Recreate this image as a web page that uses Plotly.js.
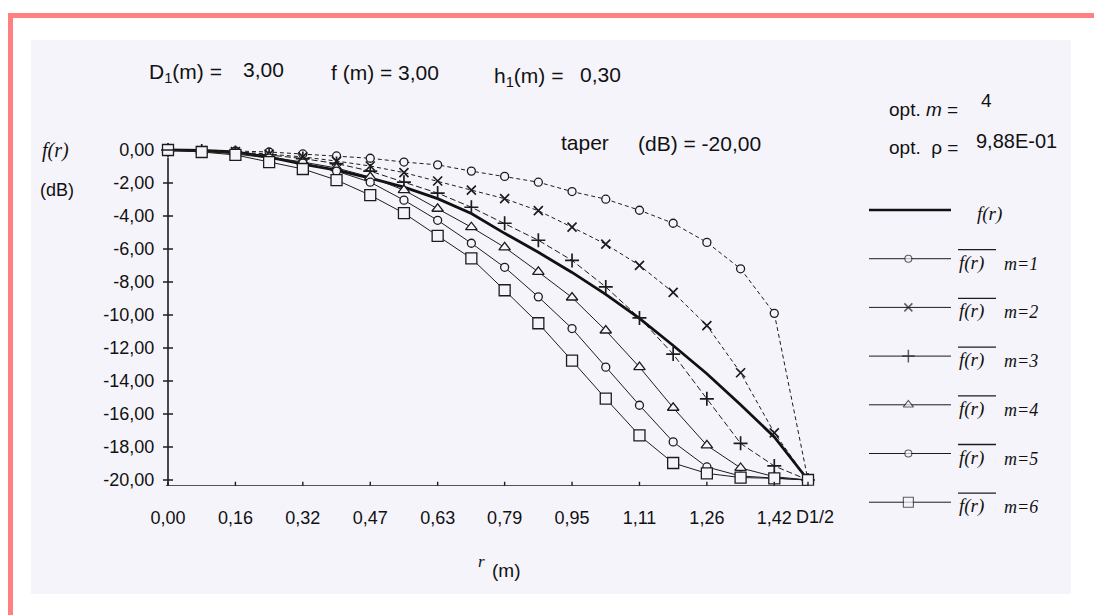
<!DOCTYPE html>
<html><head><meta charset="utf-8">
<script src="https://cdn.plot.ly/plotly-3.0.1.min.js"></script>
<style>html,body{margin:0;padding:0;background:#fff;}#chart{width:1094px;height:615px;}</style>
</head><body><div id="chart"></div>
<script>
// ---------- data ----------
const r = [0, 0.079, 0.158, 0.237, 0.316, 0.395, 0.474, 0.553, 0.632, 0.711, 0.789, 0.868, 0.947, 1.026, 1.105, 1.184, 1.263, 1.342, 1.421, 1.5];
const xTickVals = [0, 0.158, 0.316, 0.474, 0.632, 0.789, 0.947, 1.105, 1.263, 1.421, 1.5];
const xTickText = ["0,00","0,16","0,32","0,47","0,63","0,79","0,95","1,11","1,26","1,42","D1/2"];
const yTickVals = [0, -2, -4, -6, -8, -10, -12, -14, -16, -18, -20];
const yTickText = ["0,00","-2,00","-4,00","-6,00","-8,00","-10,00","-12,00","-14,00","-16,00","-18,00","-20,00"];

const fr = [0, -0.03, -0.12, -0.43, -0.85, -1.22, -1.70, -2.25, -2.95, -3.85, -5.05, -6.20, -7.42, -8.75, -10.21, -11.85, -13.56, -15.44, -17.39, -20.00];
const m1 = [0, -0.02, -0.06, -0.12, -0.24, -0.36, -0.50, -0.73, -0.90, -1.28, -1.60, -1.95, -2.52, -2.98, -3.65, -4.44, -5.60, -7.20, -9.90, -20.00];
const m2 = [0, -0.03, -0.10, -0.25, -0.42, -0.67, -0.97, -1.37, -1.88, -2.43, -2.95, -3.68, -4.68, -5.71, -6.99, -8.63, -10.64, -13.50, -17.14, -20.00];
const m3 = [0, -0.06, -0.15, -0.30, -0.52, -0.82, -1.28, -1.95, -2.61, -3.47, -4.44, -5.47, -6.69, -8.30, -10.18, -12.37, -15.08, -17.78, -19.15, -20.00];
const m4 = [0, -0.06, -0.18, -0.42, -0.73, -1.09, -1.64, -2.43, -3.56, -4.68, -5.90, -7.39, -8.94, -10.94, -13.16, -15.62, -17.90, -19.27, -19.80, -20.00];
const m5 = [0, -0.06, -0.24, -0.49, -0.79, -1.28, -1.95, -3.04, -4.26, -5.65, -7.11, -8.90, -10.82, -13.16, -15.47, -17.69, -19.21, -19.76, -19.90, -20.00];
const m6 = [0, -0.12, -0.30, -0.73, -1.15, -1.82, -2.74, -3.83, -5.20, -6.57, -8.50, -10.50, -12.77, -15.07, -17.30, -18.97, -19.60, -19.85, -19.90, -20.00];
const mLabels = ["m=1","m=2","m=3","m=4","m=5","m=6"];

// ---------- geometry helpers ----------
const W = 1094, H = 615;
const INK = '#1c1c1c', BG = '#f6f4fb';
const FONT = 'Liberation Sans, Arial, sans-serif';
const SERIF = 'Liberation Serif, Times New Roman, serif';
const X0PX = 168, X1PX = 808;           // pixel of r=0 and r=1.5
const xr = [-0.03, 1.56];
const kx = (X1PX - X0PX) / 1.5;
const xDom = [(X0PX + xr[0]*kx)/W, (X0PX + xr[1]*kx)/W];
const Y0PX = 150, Y20PX = 480;          // pixel of 0 dB and -20 dB
const ky = (Y20PX - Y0PX) / 20;
const yPix = v => Y0PX - v*ky;
const yr = [-20.35, 0.6];
const yDom = [1 - yPix(yr[0])/H, 1 - yPix(yr[1])/H];
const XLAB_PY = 517;                    // centre line of the r tick labels

// legend box axes
const LX0 = 869, LX1 = 951, LY0 = 210, LDY = 48.7;
const ly = [-6.25, 0.25];
const lyDom = [1 - (LY0 - ly[0]*LDY)/H, 1 - (LY0 - ly[1]*LDY)/H];

// ---------- series styles ----------
const series = [
  {y: m1, sym: 'circle', size: 8, dash: '4px,3px'},
  {y: m2, sym: 'x-thin-open', size: 9, dash: '4px,3px'},
  {y: m3, sym: 'cross-thin-open', size: 10, dash: '6px,3px'},
  {y: m4, sym: 'triangle-up', size: 10, dash: 'solid'},
  {y: m5, sym: 'circle', size: 8, dash: 'solid'},
  {y: m6, sym: 'square', size: 11, dash: 'solid'}
];

const traces = [];
traces.push({x: r, y: fr, mode: 'lines', line: {color: '#111', width: 2.8}, hoverinfo: 'skip', showlegend: false});
series.forEach(s => {
  const thin = s.sym.indexOf('thin') >= 0;
  traces.push({
    x: r, y: s.y, mode: 'lines+markers', showlegend: false, hoverinfo: 'skip',
    line: {color: INK, width: 1, dash: s.dash},
    marker: {symbol: s.sym, size: s.size, color: thin ? INK : BG, line: {color: INK, width: thin ? 1.7 : 1.3}}
  });
});

// legend samples (own small axes)
const legX = [0, 0.48, 1];
traces.push({x: legX, y: [0,0,0], xaxis: 'x2', yaxis: 'y2', mode: 'lines', line: {color: '#111', width: 2.6}, showlegend: false, hoverinfo: 'skip'});
series.forEach((s, i) => {
  const thin = s.sym.indexOf('thin') >= 0;
  const k = -(i+1);
  traces.push({
    x: legX, y: [k,k,k], xaxis: 'x2', yaxis: 'y2', mode: 'lines+markers', showlegend: false, hoverinfo: 'skip',
    line: {color: INK, width: 1},
    marker: {symbol: s.sym, size: [0, s.size-1, 0], color: thin ? INK : BG, line: {color: INK, width: thin ? 1.5 : 1.1}}
  });
});

// ---------- annotations ----------
const P = (px, py) => ({x: px/W, y: 1 - py/H, xref: 'paper', yref: 'paper'});
function txt(px, py, text, size, family) {
  return Object.assign(P(px, py), {text: text, showarrow: false, xanchor: 'left', yanchor: 'middle',
    font: {family: family || FONT, size: size, color: '#111'}});
}
const ann = [
  txt(147, 73, 'D<sub>1</sub>(m) =', 21),
  txt(241, 70, '3,00', 21),
  txt(329, 72, 'f (m) = 3,00', 21),
  txt(492, 77, 'h<sub>1</sub>(m) =', 21),
  txt(578, 74, '0,30', 21),
  txt(887, 109, 'opt. <i>m</i> =', 19),
  txt(979, 100, '4', 19),
  txt(887, 147, 'opt.  ρ =', 19),
  txt(974, 141, '9,88E-01', 20),
  txt(559, 142, 'taper', 21),
  txt(636, 143, '(dB) = -20,00', 21),
  txt(40, 151, '<i>f(r)</i>', 20, SERIF),
  txt(38, 190, '(dB)', 18),
  txt(476, 561, '<i>r</i>', 17, SERIF),
  txt(490, 570, '(m)', 19)
];
// last r label (D1/2) sits a little to the right of its tick, as in the source
const nAxisTicks = xTickVals.length - 1;
ann.push({x: xTickVals[nAxisTicks], xref: 'x', y: 1 - XLAB_PY/H, yref: 'paper', xshift: 7,
  text: xTickText[nAxisTicks], showarrow: false, xanchor: 'center', yanchor: 'middle',
  font: {family: FONT, size: 18, color: '#111'}});
// legend labels (paper positions next to each legend sample)
const legPy = k => LY0 + k*LDY;
ann.push(txt(975, legPy(0) + 4, '<i>f(r)</i>', 19, SERIF));
mLabels.forEach((lab, i) => {
  ann.push(txt(957, legPy(i+1) + 4, '<i>f(r)</i>', 19, SERIF));
  ann.push(txt(1002, legPy(i+1) + 5, '<i>' + lab + '</i>', 18, SERIF));
});

// ---------- shapes ----------
const shapes = [
  {type: 'rect', xref: 'paper', yref: 'paper', x0: 31/W, x1: 1071/W, y0: 1 - 594/H, y1: 1 - 40/H, fillcolor: BG, line: {width: 0}, layer: 'below'},
  {type: 'rect', xref: 'paper', yref: 'paper', x0: 8/W, x1: 1, y0: 1 - 18/H, y1: 1 - 13/H, fillcolor: '#ff8080', line: {width: 0}, layer: 'below'},
  {type: 'rect', xref: 'paper', yref: 'paper', x0: 8/W, x1: 13/W, y0: 0, y1: 1 - 13/H, fillcolor: '#ff8080', line: {width: 0}, layer: 'below'},
  // axis lines
  {type: 'line', xref: 'x', yref: 'y', x0: -0.005, x1: 1.5, y0: yr[0], y1: yr[0], line: {color: INK, width: 1.6}},
  {type: 'line', xref: 'x', yref: 'y', x0: 0, x1: 0, y0: yr[0], y1: -0.45, line: {color: INK, width: 1.6}}
];
xTickVals.forEach(v => shapes.push({type: 'line', xref: 'x', yref: 'y', ysizemode: 'pixel', yanchor: yr[0], y0: -4, y1: 4, x0: v, x1: v, line: {color: INK, width: 1.4}}));
yTickVals.forEach(v => shapes.push({type: 'line', yref: 'y', xref: 'x', xsizemode: 'pixel', xanchor: 0, x0: -5, x1: 5, y0: v, y1: v, line: {color: INK, width: 1.4}}));
// overlines on legend labels
mLabels.forEach((lab, i) => {
  const py = legPy(i+1) - 9;
  shapes.push({type: 'line', xref: 'paper', yref: 'paper', x0: 958/W, x1: 996/W, y0: 1 - py/H, y1: 1 - py/H, line: {color: INK, width: 1.3}});
});

const layout = {
  width: W, height: H, margin: {l: 0, r: 0, t: 0, b: 0}, autosize: false,
  paper_bgcolor: '#ffffff', plot_bgcolor: 'rgba(0,0,0,0)', showlegend: false,
  xaxis: {domain: xDom, range: xr, showgrid: false, zeroline: false, showline: false,
    tickmode: 'array', tickvals: xTickVals.slice(0, nAxisTicks), ticktext: xTickText.slice(0, nAxisTicks),
    tickangle: 0, ticks: 'outside', ticklen: 16, tickcolor: 'rgba(0,0,0,0)',
    tickfont: {family: FONT, size: 18, color: '#111'}},
  yaxis: {domain: yDom, range: yr, showgrid: false, zeroline: false, showline: false,
    tickmode: 'array', tickvals: yTickVals, ticktext: yTickText, ticks: '',
    tickfont: {family: FONT, size: 18, color: '#111'}},
  xaxis2: {domain: [LX0/W, LX1/W], range: [0, 1], anchor: 'y2', visible: false, fixedrange: true},
  yaxis2: {domain: lyDom, range: ly, anchor: 'x2', visible: false, fixedrange: true},
  annotations: ann, shapes: shapes
};

Plotly.newPlot('chart', traces, layout, {displayModeBar: false, staticPlot: true});
</script>
</body></html>
